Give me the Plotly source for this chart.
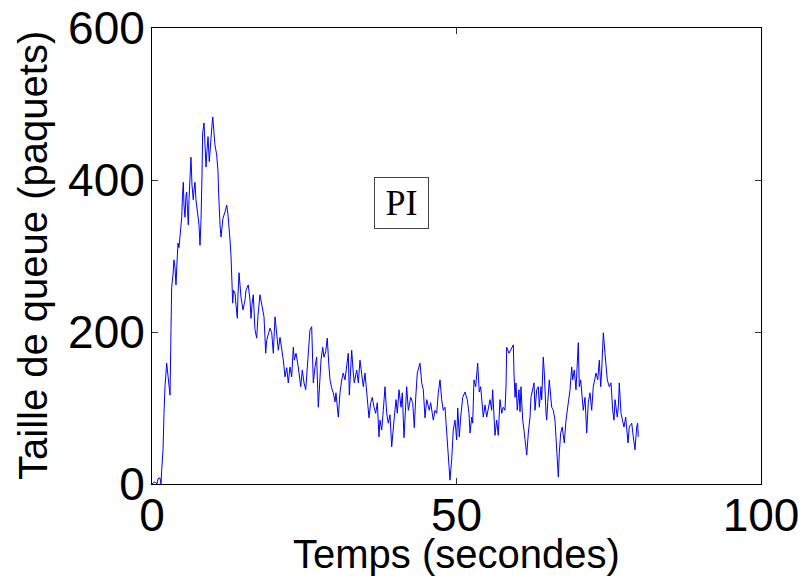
import plotly.graph_objects as go

# Time (s) and queue size (packets)
temps = [
    0, 0.49, 0.82, 0.99, 1.31, 1.48, 1.59, 1.81, 1.97, 2.13, 2.41, 2.63, 2.79, 2.96, 3.12, 3.23, 3.45, 3.61, 3.78, 3.94,
    4.11, 4.27, 4.43, 4.60, 4.76, 4.88, 5.01, 5.14, 5.25, 5.42, 5.58, 5.70, 5.83, 5.96, 6.08, 6.24, 6.40, 6.57, 6.78, 6.90,
    7.06, 7.22, 7.39, 7.55, 7.72, 7.88, 8.05, 8.21, 8.32, 8.54, 8.70, 8.87, 9.03, 9.20, 9.41, 9.52, 9.69, 9.85, 9.97, 10.10,
    10.18, 10.34, 10.62, 10.84, 10.92, 11.05, 11.17, 11.33, 11.49, 11.66, 11.99, 12.27, 12.48, 12.64, 12.81, 12.97, 13.09, 13.25, 13.38, 13.63,
    13.79, 14.01, 14.12, 14.29, 14.45, 14.61, 14.94, 15.27, 15.44, 15.81, 16.09, 16.26, 16.42, 16.63, 16.91, 17.19, 17.41, 17.73,
    18.39, 18.67, 18.83, 19.38, 19.66, 19.92, 20.20, 20.48, 20.74, 21.02, 21.30, 21.56, 21.84, 22.12, 22.38, 22.66, 22.94, 23.20,
    23.37, 23.65, 24.02, 24.42, 24.68, 24.96, 25.24, 25.67, 25.94, 26.22, 26.49, 26.77, 27.04, 27.31, 27.59, 27.75, 28.03, 28.24,
    28.52, 28.78, 29.02, 29.23, 29.51, 29.77, 30.05, 30.21, 30.59, 30.87, 31.15, 31.41, 31.69, 31.97, 32.23, 32.40, 32.79, 33.05,
    33.22, 33.61, 33.88, 34.15, 34.43, 34.70, 34.98, 35.25, 35.42, 35.63, 35.91, 36.17, 36.45, 36.73, 37.00, 37.27, 37.44, 37.72,
    37.98, 38.26, 38.54, 38.80, 39.08, 39.36, 39.74, 40.07, 40.28, 40.56, 40.89, 41.10, 41.38, 41.66, 41.82, 42.09, 42.48, 42.81,
    43.07, 43.30, 43.56, 44.01, 44.29, 44.55, 44.83, 45.11, 45.53, 45.76, 46.19, 46.47, 46.75, 47.01, 47.29, 47.57, 47.83, 48.11,
    48.39, 48.56, 48.77, 48.93, 49.21, 49.47, 49.75, 50.03, 50.20, 50.46, 50.69, 51.02, 51.40, 51.77, 52.05, 52.22, 52.50, 52.66,
    52.87, 53.15, 53.48, 53.74, 53.97, 54.40, 54.68, 54.96, 55.50, 55.78, 55.94, 56.32, 56.60, 56.86, 57.14, 57.42, 57.68, 57.96,
    58.13, 58.24, 58.62, 59.06, 59.33, 59.44, 59.61, 59.77, 59.98, 60.26, 60.43, 60.59, 60.87, 61.08, 61.25, 61.53, 61.79, 62.07,
    62.23, 62.51, 62.73, 62.89, 63.17, 63.43, 63.60, 63.88, 63.99, 64.25, 64.42, 64.70, 64.81, 64.98, 65.24, 65.63, 65.90, 66.17,
    66.45, 66.72, 66.88, 67.11, 67.37, 67.70, 67.98, 68.36, 68.64, 68.92, 69.08, 69.34, 69.62, 70.00, 70.16, 70.39, 70.82, 71.10,
    71.38, 71.64, 71.92, 72.20, 72.46, 72.91, 73.19, 73.45, 73.68, 73.84, 74.11, 74.38, 74.76, 75.09, 75.37, 75.65, 75.86, 76.03,
    76.40, 76.57, 76.73, 77.01, 77.29, 77.50, 77.78, 78.16, 78.37, 78.77, 79.03, 79.31, 79.59, 79.75, 79.85,
]
file_attente = [
    0, 3, 0, 7, 8, 0, 18, 45, 93, 128, 159, 139, 124, 117, 203, 259, 275, 295, 284, 262,
    292, 317, 311, 325, 332, 351, 380, 397, 367, 351, 380, 384, 361, 341, 374, 407, 430, 393, 374, 387,
    397, 374, 364, 354, 341, 314, 347, 407, 462, 475, 446, 417, 439, 457, 424, 439, 449, 472, 483, 472,
    466, 446, 433, 411, 387, 351, 341, 325, 341, 350, 358, 367, 354, 341, 321, 301, 278, 238, 255, 251,
    236, 218, 249, 278, 262, 246, 229, 242, 255, 262, 242, 218, 236, 249, 203, 192, 222, 249,
    220, 172, 189, 205, 199, 172, 220, 196, 176, 193, 179, 163, 141, 153, 133, 154, 141, 180,
    163, 172, 154, 128, 150, 133, 124, 172, 203, 207, 133, 154, 167, 101, 141, 163, 180, 167,
    174, 192, 159, 137, 126, 120, 108, 120, 88, 120, 137, 146, 137, 153, 172, 117, 176, 146,
    133, 150, 133, 163, 146, 128, 146, 124, 114, 87, 107, 114, 101, 93, 107, 62, 84, 71,
    97, 128, 93, 80, 91, 49, 84, 111, 93, 124, 101, 120, 61, 107, 128, 97, 114, 107,
    74, 113, 146, 159, 133, 124, 87, 111, 97, 107, 84, 97, 93, 120, 137, 111, 97, 101,
    71, 54, 28, 5, 32, 71, 84, 58, 100, 62, 88, 114, 121, 111, 93, 67, 88, 80,
    137, 128, 159, 121, 128, 88, 104, 88, 111, 97, 124, 64, 84, 64, 111, 93, 101, 97,
    128, 180, 172, 180, 183, 146, 114, 133, 97, 124, 95, 128, 84, 71, 58, 38, 67, 88,
    114, 128, 133, 97, 124, 128, 101, 128, 111, 167, 146, 93, 84, 107, 137, 101, 97, 84,
    49, 9, 41, 67, 75, 54, 84, 111, 124, 154, 137, 150, 124, 186, 128, 137, 97, 114,
    67, 107, 120, 97, 128, 146, 137, 163, 128, 150, 199, 172, 137, 128, 133, 97, 84, 111,
    88, 101, 133, 93, 84, 75, 88, 54, 75, 80, 62, 45, 75, 80, 62,
]

x_ticks = [0, 50, 100]
y_ticks = [0, 200, 400, 600]
label_font = "Liberation Sans, Arial, Helvetica, sans-serif"

fig = go.Figure()
fig.add_trace(go.Scatter(
    x=temps, y=file_attente, mode="lines",
    line=dict(color="#0000FF", width=1),
    showlegend=False, hoverinfo="skip",
))

fig.add_annotation(
    x=40.97, y=370, xref="x", yref="y", text="PI", showarrow=False,
    font=dict(family="Liberation Serif, Times New Roman, serif", size=36, color="black"),
    bordercolor="#444444", borderwidth=1, borderpad=0, bgcolor="white",
    width=53, height=50, align="center", valign="middle",
)

# Axis titles
fig.add_annotation(
    x=0.5, y=-0.1535, xref="paper", yref="paper", xanchor="center", yanchor="middle",
    text="Temps (secondes)", showarrow=False,
    font=dict(family=label_font, size=40, color="black"),
)
fig.add_annotation(
    x=-0.1954, y=0.5, xref="paper", yref="paper", xanchor="center", yanchor="middle",
    text="Taille de queue (paquets)", textangle=-90, showarrow=False,
    font=dict(family=label_font, size=40, color="black"),
)

axis_common = dict(
    showgrid=False, zeroline=False, showline=True, mirror="ticks",
    linecolor="black", linewidth=1, ticks="inside", ticklen=6,
    tickcolor="#333333", tickwidth=1, ticklabeloverflow="allow",
    tickfont=dict(family=label_font, size=46, color="black"),
)

fig.update_xaxes(
    range=[0, 100], tickmode="array", tickvals=x_ticks,
    ticktext=[str(v) for v in x_ticks], ticklabelstandoff=-9,
    **axis_common,
)
fig.update_yaxes(
    range=[0, 600], tickmode="array", tickvals=y_ticks,
    ticktext=[str(v) for v in y_ticks], ticklabelstandoff=-3,
    **axis_common,
)

# page body has an 8px margin, so the figure is sized to fit inside the window
fig.update_layout(
    width=798, height=571,
    margin=dict(l=144, r=45, t=20, b=95, autoexpand=False),
    paper_bgcolor="white", plot_bgcolor="white",
)

fig.write_html("out.html")
